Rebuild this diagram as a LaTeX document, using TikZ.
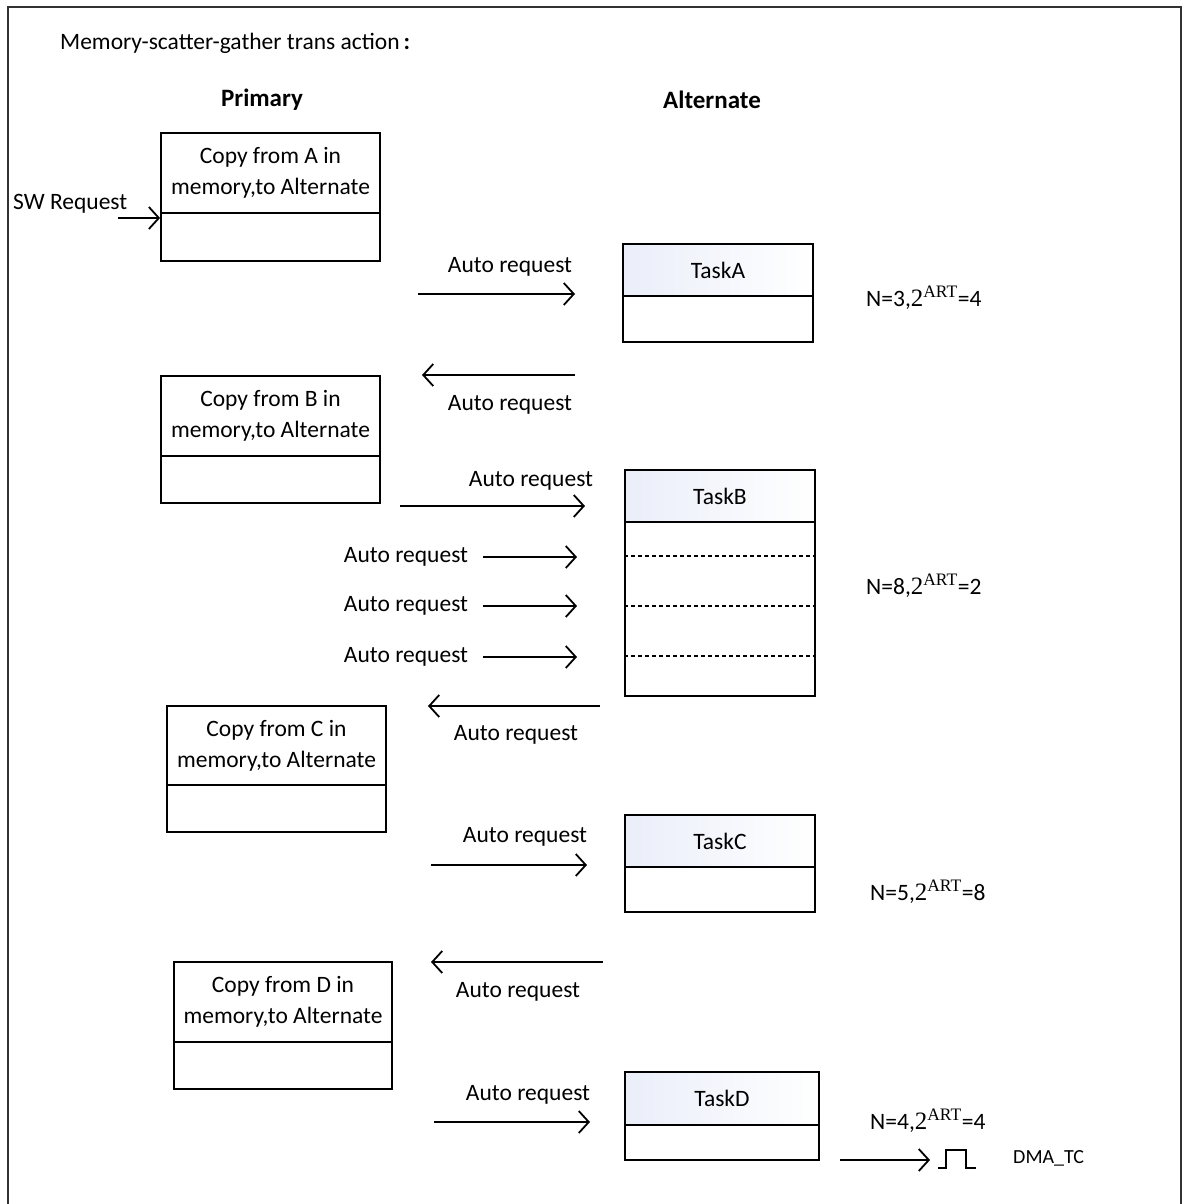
\documentclass[tikz,border=0pt]{standalone}
\usepackage{fontspec}
\setmainfont{Carlito}
\newfontfamily\numserif{Liberation Serif}
\usetikzlibrary{arrows.meta}

\newcommand{\artexp}[2]{N=#1,{\numserif\fontsize{25}{30}\selectfont 2\textsuperscript{ART}}=#2}

\begin{document}
\begin{tikzpicture}[x=1pt,y=-1pt,
  every node/.style={font=\fontsize{23.5}{31}\selectfont},
  cell/.style={draw=black,line width=1.8pt,inner sep=0pt,align=center},
  head/.style={cell,left color={rgb,255:red,234;green,238;blue,249},right color=white},
  flow/.style={draw=black,line width=1.8pt,-{Straight Barb[length=10pt,width=22pt,line width=1.8pt]}},
  req/.style={inner sep=0pt,anchor=center},
  ntext/.style={inner sep=0pt,anchor=west}]

\useasboundingbox (0,0) rectangle (1184,1204);
\fill[white] (0,0) rectangle (1184,1204);
% outer frame, open at the bottom
\draw[line width=2pt,color={rgb,255:red,50;green,50;blue,50}] (8,1204) -- (8,7) -- (1181,7) -- (1181,1204);

% headings
\node[ntext] (title) at (60,43) {Memory-scatter-gather trans action\,{\bfseries :}};
\node[req,font=\fontsize{25}{30}\selectfont\bfseries] (prim) at (262,100) {Primary};
\node[req,font=\fontsize{25}{30}\selectfont\bfseries] (alt) at (712,100) {Alternate};

% primary descriptors
\node[cell,minimum width=219,minimum height=80] (pA) at (270.5,173) {Copy from A in\\memory,to Alternate};
\node[cell,minimum width=219,minimum height=48] (pAb) at (270.5,237) {};
\node[cell,minimum width=219,minimum height=80] (pB) at (270.5,416) {Copy from B in\\memory,to Alternate};
\node[cell,minimum width=219,minimum height=47] (pBb) at (270.5,479.5) {};
\node[cell,minimum width=219,minimum height=79] (pC) at (276.5,745.5) {Copy from C in\\memory,to Alternate};
\node[cell,minimum width=219,minimum height=47] (pCb) at (276.5,808.5) {};
\node[cell,minimum width=218,minimum height=80] (pD) at (283,1002) {Copy from D in\\memory,to Alternate};
\node[cell,minimum width=218,minimum height=47] (pDb) at (283,1065.5) {};

% alternate tasks
\node[head,minimum width=190,minimum height=52] (tA) at (718,270) {TaskA};
\node[cell,minimum width=190,minimum height=46] (tAb) at (718,319) {};
\node[head,minimum width=190,minimum height=52] (tB) at (720,496) {TaskB};
\node[cell,minimum width=190,minimum height=174] (tBb) at (720,609) {};
\foreach \yy in {556,606,656}
  \draw[line width=2pt,dash pattern=on 4pt off 3pt] (tBb.west |- 0,\yy) -- (tBb.east |- 0,\yy);
\node[head,minimum width=190,minimum height=52] (tC) at (720,841) {TaskC};
\node[cell,minimum width=190,minimum height=45] (tCb) at (720,889.5) {};
\node[head,minimum width=194,minimum height=53] (tD) at (722,1098.5) {TaskD};
\node[cell,minimum width=194,minimum height=35] (tDb) at (722,1142.5) {};

% software trigger
\node[ntext] (sw) at (13,204) {SW Request};
\coordinate (sw0) at (118,218);
\draw[flow] (sw0) -- (pAb.west |- sw0);

% arrow end points
\coordinate (a1s) at (418,294);  \coordinate (a1e) at (575,294);
\coordinate (a2s) at (575,375);  \coordinate (a2e) at (422,375);
\coordinate (a3s) at (400,506);  \coordinate (a3e) at (585,506);
\coordinate (r1s) at (483,557);  \coordinate (r1e) at (577,557);
\coordinate (r2s) at (483,606);  \coordinate (r2e) at (577,606);
\coordinate (r3s) at (483,657);  \coordinate (r3e) at (577,657);
\coordinate (a4s) at (600,706);  \coordinate (a4e) at (428,706);
\coordinate (a5s) at (431,865);  \coordinate (a5e) at (587,865);
\coordinate (a6s) at (603,962);  \coordinate (a6e) at (431,962);
\coordinate (a7s) at (434,1122); \coordinate (a7e) at (590,1122);

\draw[flow] (a1s) -- (a1e);
\draw[flow] (a2s) -- (a2e);
\draw[flow] (a3s) -- (a3e);
\draw[flow] (r1s) -- (r1e);
\draw[flow] (r2s) -- (r2e);
\draw[flow] (r3s) -- (r3e);
\draw[flow] (a4s) -- (a4e);
\draw[flow] (a5s) -- (a5e);
\draw[flow] (a6s) -- (a6e);
\draw[flow] (a7s) -- (a7e);

% request labels
\node[req] (l1) at (510,267) {Auto request};
\node[req] (l2) at (510,405) {Auto request};
\node[req] (l3) at (531,481) {Auto request};
\node[req] (l4) at (406,557) {Auto request};
\node[req] (l5) at (406,606) {Auto request};
\node[req] (l6) at (406,657) {Auto request};
\node[req] (l7) at (516,735) {Auto request};
\node[req] (l8) at (525,837) {Auto request};
\node[req] (l9) at (518,992) {Auto request};
\node[req] (l10) at (528,1095) {Auto request};

% cycle parameters
\node[ntext] (nA) at (866,298) {\artexp{3}{4}};
\node[ntext] (nB) at (866,586) {\artexp{8}{2}};
\node[ntext] (nC) at (870,892) {\artexp{5}{8}};
\node[ntext] (nD) at (870,1121) {\artexp{4}{4}};

% transfer-complete pulse
\coordinate (tc0) at (840,1160);
\coordinate (tc1) at (930,1160);
\draw[flow] (tc0) -- (tc1);
\draw[line width=1.8pt] (938,1168) -- (946,1168) -- (946,1150) -- (966,1150) -- (966,1168) -- (976,1168);
\node[ntext,font=\fontsize{20}{24}\selectfont] (tc) at (1013,1158) {DMA\_TC};
\end{tikzpicture}
\end{document}
